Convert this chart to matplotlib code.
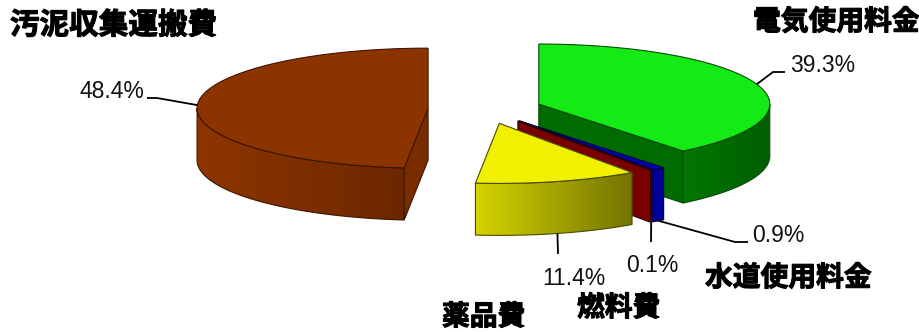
import matplotlib
matplotlib.use("Agg")
import matplotlib.pyplot as plt
import numpy as np
from matplotlib.patches import Polygon
from matplotlib import patheffects as pe
from matplotlib.colors import to_rgb

# 費用構成（%）— 12時の位置から時計回り
categories = ["電気使用料金", "水道使用料金", "燃料費", "薬品費", "汚泥収集運搬費"]
shares = [39.3, 0.9, 0.1, 11.4, 48.4]
pct_labels = ["39.3%", "0.9%", "0.1%", "11.4%", "48.4%"]

top_colors = ["#14EB14", "#0000B4", "#8A0000", "#F0F000", "#8B3400"]
side_left = ["#007800", "#0000A8", "#7A0000", "#D4D400", "#8E3500"]
side_right = ["#005E00", "#000090", "#6A0000", "#747400", "#6C2700"]
face_colors = ["#006C00", "#0000A0", "#7A0000", "#A0A000", "#782C00"]
edge_colors = ["#0A4A0A", "#00003A", "#2A0000", "#4A4A00", "#3A1600"]

# 3D pie geometry (pixel space)
CX, CY = 485.0, 109.0
RAD = 231.0
TILT = 0.26
DEPTH = 52.0
EXPLODE = 57.0

# label layout: (text x, text y, ha), leader elbow/end points
pct_pos = [(790, 72, "left"), (752, 242, "left"), (652, 272, "center"),
           (574, 285, "center"), (144, 98, "right")]
leader_mid = [(773, 72), (735, 242), None, None, (157, 98)]
leader_end = [(785, 72), (748, 242), (651, 242), (558, 254), (147, 98)]
cat_pos = [(753, 22), (705, 278), (577, 308), (442, 317), (10, 25)]
cat_size = [20, 20, 20, 20, 21.3]

fig = plt.figure(figsize=(9.2, 3.32), dpi=100)
ax = fig.add_axes([0, 0, 1, 1])
ax.axis("off")

total = sum(shares)
bounds = np.concatenate([[0], np.cumsum(shares)]) / total * 360.0


def point(apex, r, phi, down=0.0):
    rad = np.radians(phi)
    return (apex[0] + r * np.sin(rad), apex[1] - r * TILT * np.cos(rad) + down)


def arc(apex, a, b, down=0.0):
    n = max(2, int(abs(b - a) * 2) + 2)
    return [point(apex, RAD, p, down) for p in np.linspace(a, b, n)]


mids = [(bounds[i] + bounds[i + 1]) / 2 for i in range(len(shares))]
order = sorted(range(len(shares)), key=lambda i: -abs(mids[i] - 180))

apexes = []
for i in range(len(shares)):
    m = np.radians(mids[i])
    apexes.append((CX + EXPLODE * np.sin(m), CY - EXPLODE * TILT * np.cos(m)))

z = 2.0
for i in order:
    a1, a2 = bounds[i], bounds[i + 1]
    apex = apexes[i]
    ec = edge_colors[i]

    # curved outer wall (front half only) with horizontal shading
    lo, hi = max(a1, 90.0), min(a2, 270.0)
    if hi > lo:
        outline = arc(apex, lo, hi) + arc(apex, hi, lo, DEPTH)
        xs = [p[0] for p in outline]
        ys = [p[1] for p in outline]
        cl, cr = np.array(to_rgb(side_left[i])), np.array(to_rgb(side_right[i]))
        t = np.linspace(0, 1, 64)[None, :, None]
        grad = cl[None, None, :] + (cr - cl)[None, None, :] * t
        wall = Polygon(outline, closed=True, facecolor="none", edgecolor=ec,
                       lw=0.8, zorder=z + 0.1)
        ax.add_patch(wall)
        im = ax.imshow(grad, extent=(min(xs), max(xs), max(ys), min(ys)),
                       aspect="auto", interpolation="bilinear", zorder=z)
        im.set_clip_path(wall)
        z += 1

    # radial cut faces that face the viewer
    for ang, visible in ((a1, np.sin(np.radians(a1)) < -1e-6),
                         (a2, np.sin(np.radians(a2)) > 1e-6)):
        if visible:
            face = [apex, point(apex, RAD, ang), point(apex, RAD, ang, DEPTH),
                    (apex[0], apex[1] + DEPTH)]
            ax.add_patch(Polygon(face, closed=True, facecolor=face_colors[i],
                                 edgecolor=ec, lw=0.8, zorder=z))
            z += 1

    # top face
    top = [apex] + arc(apex, a1, a2)
    ax.add_patch(Polygon(top, closed=True, facecolor=top_colors[i],
                         edgecolor=ec, lw=0.8, zorder=z))
    z += 1

# leader lines and percentage labels
for i in range(len(shares)):
    m = mids[i]
    back = np.cos(np.radians(m)) > 0
    start = point(apexes[i], RAD, m, 0.0 if back else DEPTH)
    path = [start]
    if leader_mid[i] is not None:
        path.append(leader_mid[i])
    path.append(leader_end[i])
    px, py = zip(*path)
    ax.plot(px, py, color="black", lw=1.3, zorder=50, solid_capstyle="butt")
    tx, ty, ha = pct_pos[i]
    ax.text(tx, ty, pct_labels[i], ha=ha, va="baseline", fontsize=16.5,
            family=["Liberation Sans", "DejaVu Sans"], color="#111111",
            zorder=51)

# category names
for i, name in enumerate(categories):
    x, y = cat_pos[i]
    ax.text(x, y, name, ha="left", va="center", fontsize=cat_size[i],
            fontweight="bold", family=["Noto Sans CJK JP", "DejaVu Sans"],
            color="black", zorder=51,
            path_effects=[pe.withStroke(linewidth=0.8, foreground="black")])

ax.set_xlim(0, 920)
ax.set_ylim(332, 0)
fig.savefig("out.png", dpi=100, facecolor="white")
